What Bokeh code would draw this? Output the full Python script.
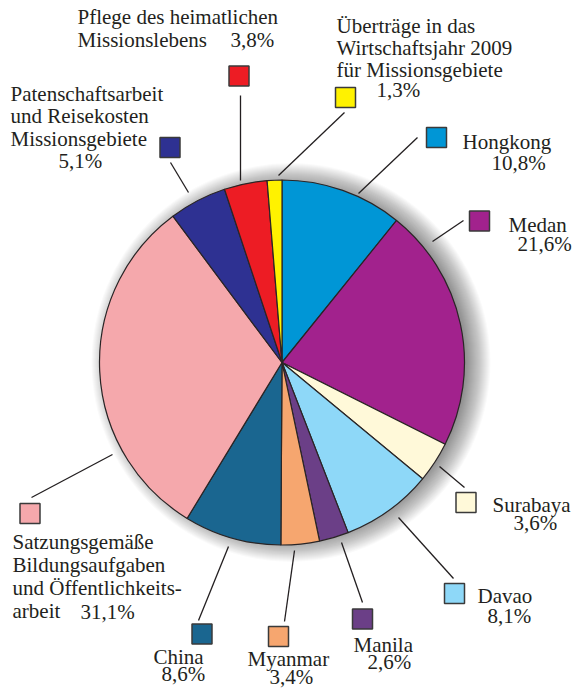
import math
from bokeh.plotting import figure
from bokeh.models import Range1d, ColumnDataSource
from bokeh.core.properties import value
from bokeh.embed import file_html
from bokeh.resources import INLINE

# ---------------- data ----------------
categories = ["Hongkong", "Medan", "Surabaya", "Davao", "Manila", "Myanmar", "China",
              "Satzungsgemäße Bildungsaufgaben und Öffentlichkeitsarbeit",
              "Patenschaftsarbeit und Reisekosten Missionsgebiete",
              "Pflege des heimatlichen Missionslebens",
              "Überträge in das Wirtschaftsjahr 2009 für Missionsgebiete"]
shares = [10.8, 21.6, 3.6, 8.1, 2.6, 3.4, 8.6, 31.1, 5.1, 3.8, 1.3]
colors = ["#0096D6", "#A2228D", "#FFF9D9", "#8ED8F8", "#6B3F87", "#F6A66F",
          "#1A6690", "#F5A8AC", "#2E3192", "#ED1C24", "#FFF200"]
label_lines = [
    ["Hongkong"],
    ["Medan"],
    ["Surabaya"],
    ["Davao"],
    ["Manila"],
    ["Myanmar"],
    ["China"],
    ["Satzungsgemäße", "Bildungsaufgaben", "und Öffentlichkeits-", "arbeit"],
    ["Patenschaftsarbeit", "und Reisekosten", "Missionsgebiete"],
    ["Pflege des heimatlichen", "Missionslebens"],
    ["Überträge in das", "Wirtschaftsjahr 2009", "für Missionsgebiete"],
]
pct_labels = [f"{v:.1f}".replace(".", ",") + "%" for v in shares]

# ---------------- layout (image pixel coords) ----------------
W, H = 573, 688
CX, CY, R = 281.5, 362.0, 182.5
sq_pos = [(436, 137), (479, 220.5), (465.5, 502), (454, 593), (362, 618.5),
          (278, 636), (201.5, 633.5), (29.5, 513), (169.5, 147), (238.5, 75.5), (345, 97)]
leaders = [(417, 137, 358, 193), (463, 220, 432, 241), (464, 487, 439, 466),
           (453, 578, 398, 517), (362, 602, 341, 542), (284, 621, 294, 550),
           (198, 620, 228, 546), (31, 497, 112, 454), (170, 162, 188, 192),
           (240, 95, 240, 180), (344, 112, 278, 175)]
name_pos = [(462, 148, 0), (508, 231, 0), (492, 511, 0), (477, 602, 0), (353, 651, 0),
            (247, 665, 0), (153, 663, 0), (12, 548, 23.3), (10, 100, 22.5),
            (77, 23, 23), (336, 32, 22)]
pct_pos = [(491, 169), (517, 250), (513, 529), (487, 622), (367, 668), (269, 683),
           (161, 680), (80, 618), (58, 167), (230, 46), (376, 96)]
TEXT_DY = -7  # compensation for the renderer's baseline placement

def fy(y):
    return H - y

p = figure(width=W, height=H, output_backend="svg", toolbar_location=None,
           x_range=Range1d(0, W), y_range=Range1d(0, H), min_border=0)
p.axis.visible = False
p.grid.visible = False
p.outline_line_color = None

# soft shadow: translucent black discs stacked (largest first)
SDX, SDY = 9.0, 0.0
N = 26
p.circle(x=[CX + SDX] * N, y=[fy(CY + SDY)] * N,
         radius=[R + k for k in range(N - 9, -9, -1)],
         fill_color="black", fill_alpha=0.02, line_color=None)

# pie
total = sum(shares)
starts, ends = [], []
acc = 0.0
for v in shares:
    starts.append(math.pi / 2 - 2 * math.pi * acc / total)
    acc += v
    ends.append(math.pi / 2 - 2 * math.pi * acc / total)
src = ColumnDataSource(dict(start=starts, end=ends, color=colors, cat=categories))
p.wedge(x=CX, y=fy(CY), radius=R, start_angle="start", end_angle="end",
        direction="clock", fill_color="color", line_color="#2a2526", line_width=1.2,
        source=src)

# leader lines
p.segment(x0=[l[0] for l in leaders], y0=[fy(l[1]) for l in leaders],
          x1=[l[2] for l in leaders], y1=[fy(l[3]) for l in leaders],
          line_color="#231F20", line_width=1.3)

# legend squares
p.rect(x=[s[0] for s in sq_pos], y=[fy(s[1]) for s in sq_pos], width=20, height=20,
       fill_color=colors, line_color="#3a3a3a", line_width=1.5)

# texts
tx, ty, tt = [], [], []
for lines, (x, y, step) in zip(label_lines, name_pos):
    for i, s in enumerate(lines):
        tx.append(x); ty.append(fy(y + i * step + TEXT_DY)); tt.append(s)
for s, (x, y) in zip(pct_labels, pct_pos):
    tx.append(x); ty.append(fy(y + TEXT_DY)); tt.append(s)
p.text(x=tx, y=ty, text=tt, text_font=value("Liberation Serif"), text_font_size="21px",
       text_color="#231F20", text_baseline="alphabetic", text_align="left")

open("out.html", "w").write(file_html(p, INLINE))
